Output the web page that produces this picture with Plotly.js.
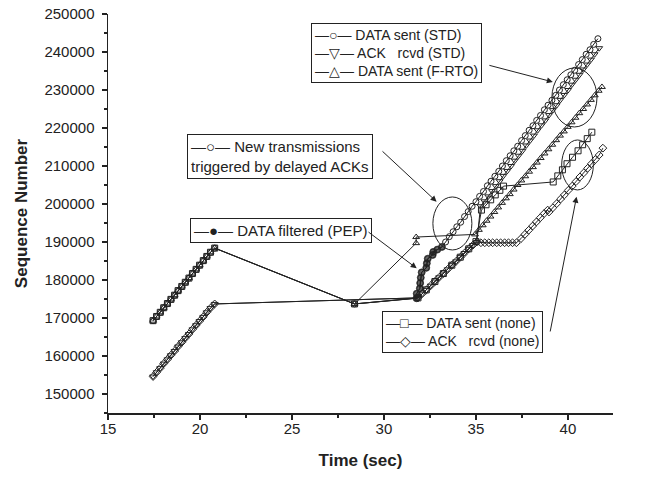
<!DOCTYPE html>
<html>
<head>
<meta charset="utf-8">
<script src="https://cdn.plot.ly/plotly-3.0.1.min.js"></script>
<style>html,body{margin:0;padding:0;background:#fff;}#chart{width:662px;height:479px;}</style>
</head>
<body>
<div id="chart"></div>
<script>
// ---- data ----
// phase before the timeout (shared by several series)
const preX = [17.45, 17.64, 17.84, 18.03, 18.23, 18.42, 18.62, 18.81, 19.01, 19.2, 19.4, 19.59, 19.79, 19.98, 20.18, 20.37, 20.57, 20.8];
const preDataY = [169300, 170400, 171500, 172700, 173800, 174900, 176000, 177200, 178300, 179400, 180500, 181700, 182800, 183900, 185100, 186200, 187300, 188400];
const preAckY = [154600, 155700, 156800, 158000, 159100, 160200, 161300, 162500, 163600, 164700, 165800, 167000, 168100, 169200, 170300, 171500, 172600, 173700];

// retransmission after RTO
const rtoX = [28.4];
const rtoY = [173700];

// DATA filtered (PEP)
const pepX = [31.77, 31.78, 31.95, 31.97, 32.0, 32.05, 32.3, 32.33, 32.38, 32.65, 32.68, 32.9, 33.15];
const pepY = [175200, 176400, 177800, 179200, 180600, 182000, 183200, 184400, 185600, 186600, 187400, 188000, 188700];

// DATA sent (STD) after the delayed ACKs
const stdNewX = [33.35, 33.55, 33.76, 33.96, 34.17, 34.38, 34.58, 34.79, 35.0, 35.2, 35.41, 35.62, 35.82, 36.03, 36.24, 36.44, 36.65, 36.86, 37.06, 37.27, 37.48, 37.68, 37.89, 38.1, 38.3, 38.51, 38.72, 38.92, 39.13, 39.34, 39.54, 39.75, 39.96, 40.16, 40.37, 40.58, 40.78, 40.99, 41.2, 41.4, 41.63];
const stdNewY = [190000, 191400, 192700, 194000, 195200, 196700, 198000, 199400, 200600, 202000, 203300, 204800, 206000, 207300, 208600, 210000, 211400, 212700, 214000, 215200, 216700, 218000, 219400, 220600, 222000, 223300, 224800, 226000, 227300, 228600, 230000, 231400, 232700, 234000, 235200, 236700, 238000, 239400, 240600, 242000, 243500];

// delayed ACKs of the original flight (shared by ACK STD and ACK none)
const delAckX = [31.85, 32.08, 32.31, 32.54, 32.77, 33.0, 33.23, 33.46, 33.69, 33.92, 34.15, 34.38, 34.61, 34.84, 35.05];
const delAckY = [175300, 176400, 177400, 178500, 179600, 180700, 181700, 182800, 183900, 184900, 186000, 187100, 188200, 189200, 190000];

// ACK rcvd (STD) afterwards
const ackStdX = [35.25, 35.46, 35.67, 35.87, 36.08, 36.29, 36.49, 36.7, 36.91, 37.11, 37.32, 37.53, 37.73, 37.94, 38.15, 38.35, 38.56, 38.77, 38.97, 39.18, 39.39, 39.59, 39.8, 40.01, 40.21, 40.42, 40.63, 40.83, 41.04, 41.25, 41.45, 41.7];
const ackStdY = [199400, 200700, 202000, 203400, 204700, 206000, 207400, 208700, 210000, 211400, 212700, 214000, 215400, 216700, 218000, 219400, 220700, 222000, 223400, 224700, 226000, 227400, 228700, 230000, 231400, 232700, 234000, 235400, 236700, 238000, 239400, 241000];

// DATA sent (F-RTO)
const frtoNewX = [31.75, 31.75, 34.95, 35.16, 35.37, 35.58, 35.79, 36.0, 36.21, 36.42, 36.63, 36.84, 37.05, 37.26, 37.47, 37.68, 37.89, 38.1, 38.31, 38.52, 38.73, 38.94, 39.15, 39.36, 39.57, 39.78, 39.99, 40.2, 40.41, 40.62, 40.83, 41.04, 41.25, 41.46, 41.67, 41.85];
const frtoNewY = [189700, 191300, 192000, 193200, 194400, 195600, 196700, 197900, 199100, 200300, 201500, 202600, 203800, 205000, 206200, 207300, 208500, 209700, 210900, 212100, 213300, 214400, 215600, 216800, 218000, 219100, 220300, 221500, 222700, 223900, 225000, 226200, 227400, 228600, 229800, 230800];

// DATA sent (none) afterwards
const noneNewX = [31.85, 32.3, 32.77, 33.23, 33.69, 34.15, 34.61, 35.0, 35.3, 35.55, 35.8, 36.05, 36.3, 36.5, 39.2, 39.45, 39.7, 39.95, 40.25, 40.55, 40.8, 41.05, 41.3];
const noneNewY = [175300, 177400, 179600, 181700, 183900, 186000, 188200, 190100, 198400, 199800, 201100, 202400, 203600, 204700, 205800, 207400, 209000, 210600, 212300, 214000, 215600, 217200, 218900];

// ACK rcvd (none) afterwards: duplicate ACKs then rising
const ackNoneX = [35.27, 35.48, 35.7, 35.91, 36.13, 36.34, 36.56, 36.77, 36.99, 37.2, 37.45, 37.66, 37.87, 38.08, 38.29, 38.5, 38.71, 38.9, 38.97, 39.18, 39.39, 39.6, 39.81, 40.02, 40.23, 40.44, 40.65, 40.86, 41.07, 41.28, 41.49, 41.7, 41.9];
const ackNoneY = [189800, 189800, 189800, 189800, 189800, 189800, 189800, 189800, 189800, 189800, 190900, 192000, 193100, 194200, 195300, 196400, 197500, 198400, 197900, 199000, 200100, 201300, 202400, 203600, 204700, 205900, 207100, 208200, 209400, 210600, 211700, 212900, 214700];

// ---- assemble series ----
const cat = (...a) => [].concat(...a);
const ink = '#222222';
function series(name, x, y, symbol, size) {
  return {
    type: 'scatter', mode: 'lines+markers', name: name, x: x, y: y,
    line: {color: ink, width: 1},
    marker: {symbol: symbol, size: size, color: ink, line: {color: ink, width: 1}},
    showlegend: false, hoverinfo: 'x+y+name'
  };
}
const traces = [
  series('ACK rcvd (none)', cat(preX, delAckX, ackNoneX), cat(preAckY, delAckY, ackNoneY), 'diamond-open', 6),
  series('ACK rcvd (STD)', cat(preX, delAckX, ackStdX), cat(preAckY, delAckY, ackStdY), 'triangle-down-open', 6),
  series('DATA sent (none)', cat(preX, rtoX, noneNewX), cat(preDataY, rtoY, noneNewY), 'square-open', 6),
  series('DATA sent (F-RTO)', cat(preX, rtoX, frtoNewX), cat(preDataY, rtoY, frtoNewY), 'triangle-up-open', 6),
  series('DATA sent (STD)', cat(preX, rtoX, pepX, stdNewX), cat(preDataY, rtoY, pepY, stdNewY), 'circle-open', 6),
  series('DATA filtered (PEP)', cat(rtoX, pepX), cat(rtoY, pepY), 'circle', 7)
];
// the PEP line starts from the retransmission point, which carries no filled marker
traces[5].marker.size = cat([0], pepX.map(() => 7));

const fontTxt = {family: 'Liberation Sans, Arial, sans-serif', size: 14, color: ink};
function box(text, x, y, size) {
  return {xref: 'x', yref: 'y', x: x, y: y, xanchor: 'left', yanchor: 'top', text: text, align: 'left',
    showarrow: false, font: Object.assign({}, fontTxt, {size: size || 14}), bordercolor: ink, borderwidth: 1, borderpad: 3, bgcolor: '#ffffff'};
}
function arrow(x, y, ax, ay) {
  return {xref: 'x', yref: 'y', axref: 'x', ayref: 'y', x: x, y: y, ax: ax, ay: ay, text: '',
    showarrow: true, arrowhead: 2, arrowsize: 1.2, arrowwidth: 1, arrowcolor: ink};
}
function ellipse(x0, x1, y0, y1) {
  return {type: 'circle', xref: 'x', yref: 'y', x0: x0, x1: x1, y0: y0, y1: y1, line: {color: ink, width: 1}};
}

const layout = {
  width: 662, height: 479,
  margin: {l: 108, r: 49, t: 14, b: 66},
  paper_bgcolor: '#ffffff', plot_bgcolor: '#ffffff',
  font: {family: 'Liberation Sans, Arial, sans-serif', size: 15, color: ink},
  xaxis: {
    range: [15, 42.45], tick0: 15, dtick: 5, ticks: 'outside', ticklen: 5, tickwidth: 1.5, tickcolor: ink,
    minor: {dtick: 2.5, ticks: 'outside', ticklen: 3, tickwidth: 1.5, tickcolor: ink},
    showline: true, linecolor: ink, linewidth: 1.5, showgrid: false, zeroline: false,
    tickfont: {size: 15, color: ink}, ticklabelstandoff: -4,
    title: {text: 'Time (sec)', font: {size: 17, color: ink, family: 'Liberation Sans, Arial, sans-serif', weight: 'bold'}, standoff: 18}
  },
  yaxis: {
    range: [145000, 250000], tick0: 150000, dtick: 10000, tickformat: 'd', ticks: 'outside', ticklen: 5, tickwidth: 1.5, tickcolor: ink,
    minor: {dtick: 5000, ticks: 'outside', ticklen: 3, tickwidth: 1.5, tickcolor: ink},
    showline: true, linecolor: ink, linewidth: 1.5, showgrid: false, zeroline: false,
    tickfont: {size: 15, color: ink}, ticklabelstandoff: 4,
    title: {text: 'Sequence Number', font: {size: 17, color: ink, family: 'Liberation Sans, Arial, sans-serif', weight: 'bold'}, standoff: 12}
  },
  shapes: [
    ellipse(39.13, 41.58, 220270, 235800),
    ellipse(39.66, 41.38, 203700, 216850),
    ellipse(32.66, 34.78, 187900, 201850)
  ],
  annotations: [
    box('—○— DATA sent (STD)<br>—▽— ACK   rcvd (STD)<br>—△— DATA sent (F-RTO)', 26.03, 247730, 14),
    box('—○— New transmissions<br>triggered by delayed ACKs', 19.3, 218300, 15),
    box('—●— DATA filtered (PEP)', 19.45, 196300, 15),
    box('—□— DATA sent (none)<br>—◇— ACK   rcvd (none)', 29.9, 171850, 14),
    arrow(39.18, 232120, 35.65, 236590),
    arrow(32.86, 200610, 29.84, 214220),
    arrow(31.78, 183080, 29.08, 192900),
    arrow(40.47, 201930, 39.02, 166060)
  ]
};
Plotly.newPlot('chart', traces, layout, {staticPlot: true, displayModeBar: false});
</script>
</body>
</html>
